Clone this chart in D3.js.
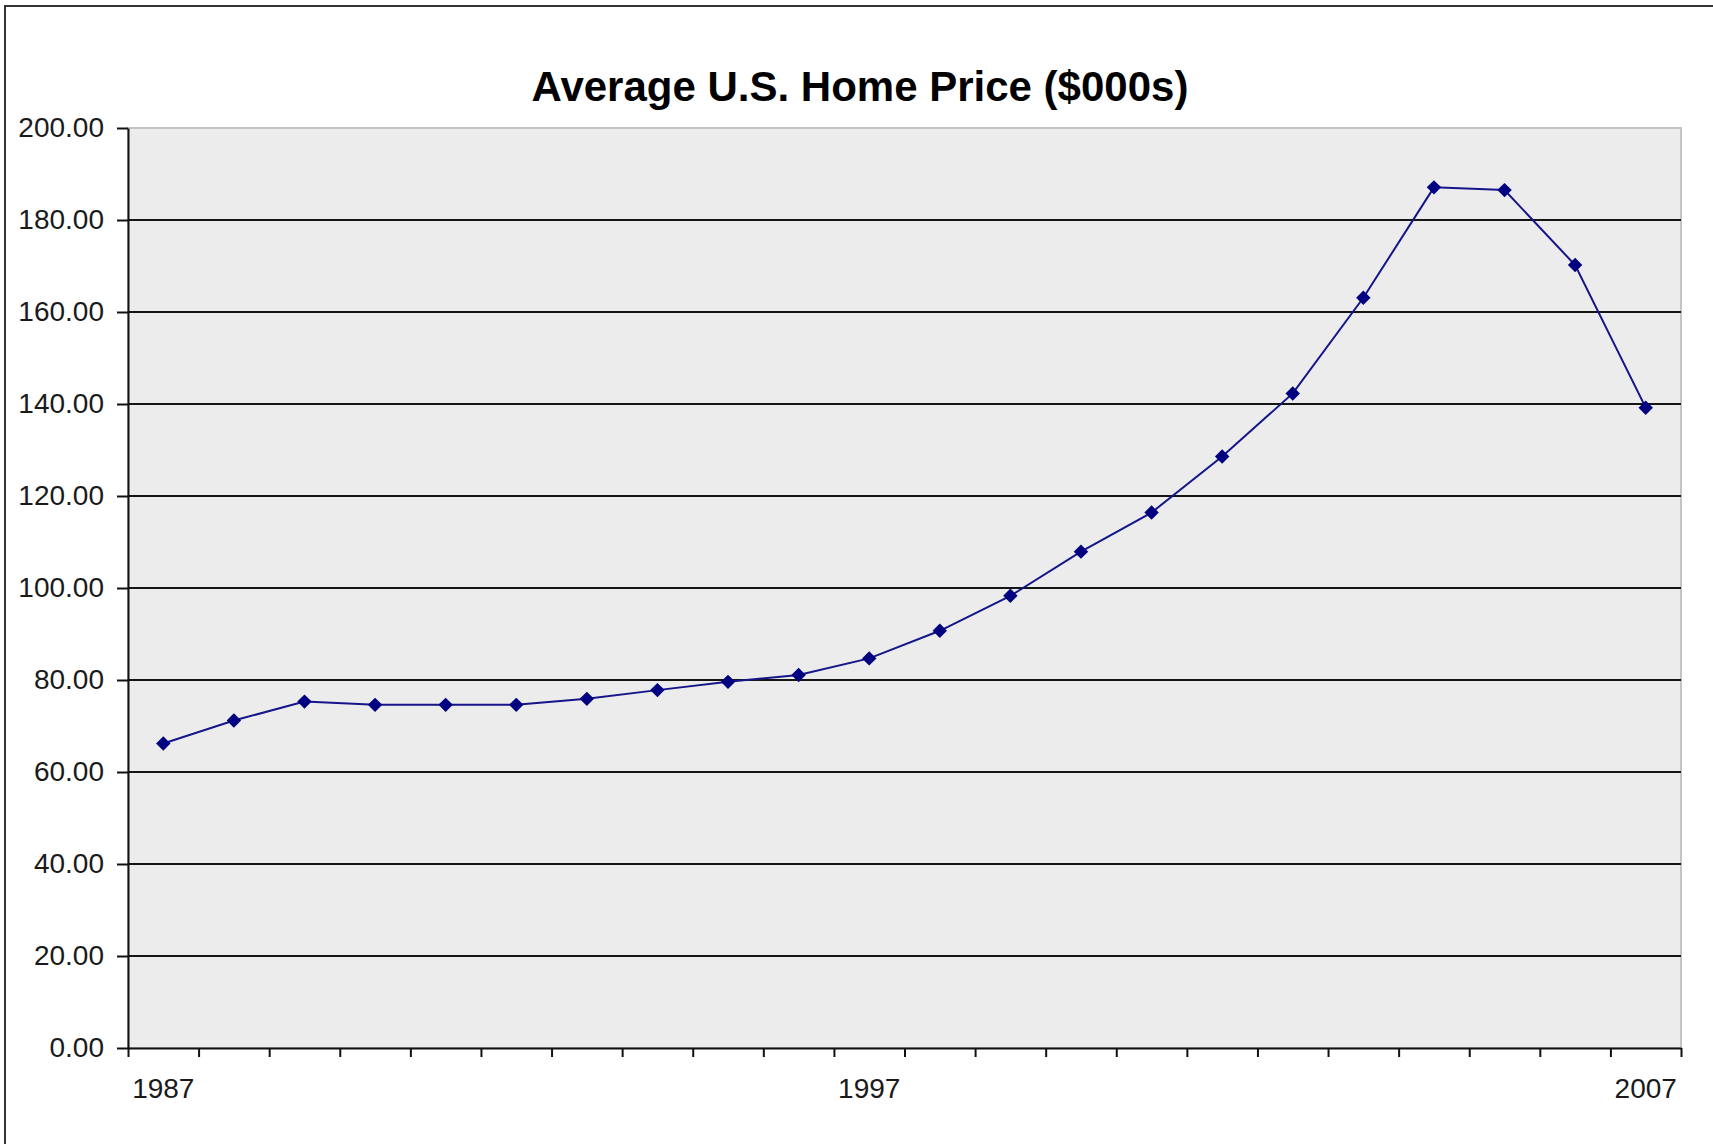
<!DOCTYPE html>
<html>
<head>
<meta charset="utf-8">
<script src="https://cdn.jsdelivr.net/npm/d3@7"></script>
<style>
  body { margin: 0; background: #fff; }
  svg { display: block; font-family: "Liberation Sans", Arial, sans-serif; }
  .axis path, .axis line { stroke: #111; stroke-width: 2; }
  .axis text { fill: #1a1a1a; font-size: 28px; }
  .grid line { stroke: #151515; stroke-width: 2; }
</style>
</head>
<body>
<svg id="chart"></svg>
<script>
// category labels (only every tenth year is shown)
var labels = ["1987","","","","","","","","","","1997","","","","","","","","","","","2007"];
// average price, $000s
var prices = [66.2, 71.2, 75.3, 74.6, 74.6, 74.6, 75.9, 77.8, 79.6, 81.1, 84.7,
              90.7, 98.3, 107.9, 116.4, 128.6, 142.3, 163.1, 187.1, 186.5, 170.2, 139.2];
var yTicks = [0, 20, 40, 60, 80, 100, 120, 140, 160, 180, 200];

const width = 1713;
const height = 1144;
const plotL = 128, plotR = 1681, plotT = 128, plotB = 1048;

var svg = d3.select("#chart")
    .attr("width", width)
    .attr("height", height);

// outer chart border (right and bottom edges run off the picture)
svg.append("rect")
    .attr("x", 5).attr("y", 6)
    .attr("width", 1720).attr("height", 1160)
    .attr("fill", "none")
    .attr("stroke", "#333")
    .attr("stroke-width", 2);

var y = d3.scaleLinear().domain([0, 200]).range([plotB, plotT]);
var xb = d3.scaleLinear().domain([0, labels.length]).range([plotL, plotR]);
var xc = d3.scaleBand().domain(d3.range(labels.length)).range([plotL, plotR]).padding(0);

// plot area
svg.append("rect")
    .attr("x", plotL).attr("y", plotT)
    .attr("width", plotR - plotL).attr("height", plotB - plotT)
    .attr("fill", "#ececec")
    .attr("stroke", "#c4c4c4")
    .attr("stroke-width", 2);

// gridlines
svg.append("g").attr("class", "grid")
    .selectAll("line")
    .data(yTicks.filter(d => d > 0 && d < 200))
    .enter().append("line")
    .attr("x1", plotL).attr("x2", plotR)
    .attr("y1", d => y(d)).attr("y2", d => y(d));

// y axis
svg.append("g").attr("class", "axis")
    .attr("transform", "translate(" + plotL + ",0)")
    .call(d3.axisLeft(y).tickValues(yTicks).tickFormat(d3.format(".2f"))
        .tickSize(11).tickPadding(13).tickSizeOuter(0));

// x axis ticks at category boundaries
svg.append("g").attr("class", "axis")
    .attr("transform", "translate(0," + plotB + ")")
    .call(d3.axisBottom(xb).tickValues(d3.range(labels.length + 1))
        .tickFormat("").tickSize(9).tickSizeOuter(0));

// x labels centred in categories
var xl = svg.append("g").attr("class", "axis")
    .attr("transform", "translate(0," + plotB + ")")
    .call(d3.axisBottom(xc).tickValues(d3.range(labels.length).filter(i => labels[i] !== ""))
        .tickFormat(i => labels[i]).tickSize(0).tickPadding(30));
xl.select(".domain").remove();

// line
var line = d3.line()
    .x((d, i) => xc(i) + xc.bandwidth() / 2)
    .y(d => y(d));

svg.append("path")
    .datum(prices)
    .attr("fill", "none")
    .attr("stroke", "#15158a")
    .attr("stroke-width", 2)
    .attr("d", line);

// diamond markers
var diamond = d3.symbol(d3.symbolSquare, 104);
svg.selectAll(".point")
    .data(prices)
    .enter().append("path")
    .attr("class", "point")
    .attr("d", diamond)
    .attr("fill", "#000080")
    .attr("transform", (d, i) => "translate(" + (xc(i) + xc.bandwidth() / 2) + "," + y(d) + ") rotate(45)");

// title
svg.append("text")
    .attr("x", 860)
    .attr("y", 101)
    .attr("text-anchor", "middle")
    .attr("font-size", "42px")
    .attr("font-weight", "bold")
    .attr("fill", "#000")
    .text("Average U.S. Home Price ($000s)");
</script>
</body>
</html>
